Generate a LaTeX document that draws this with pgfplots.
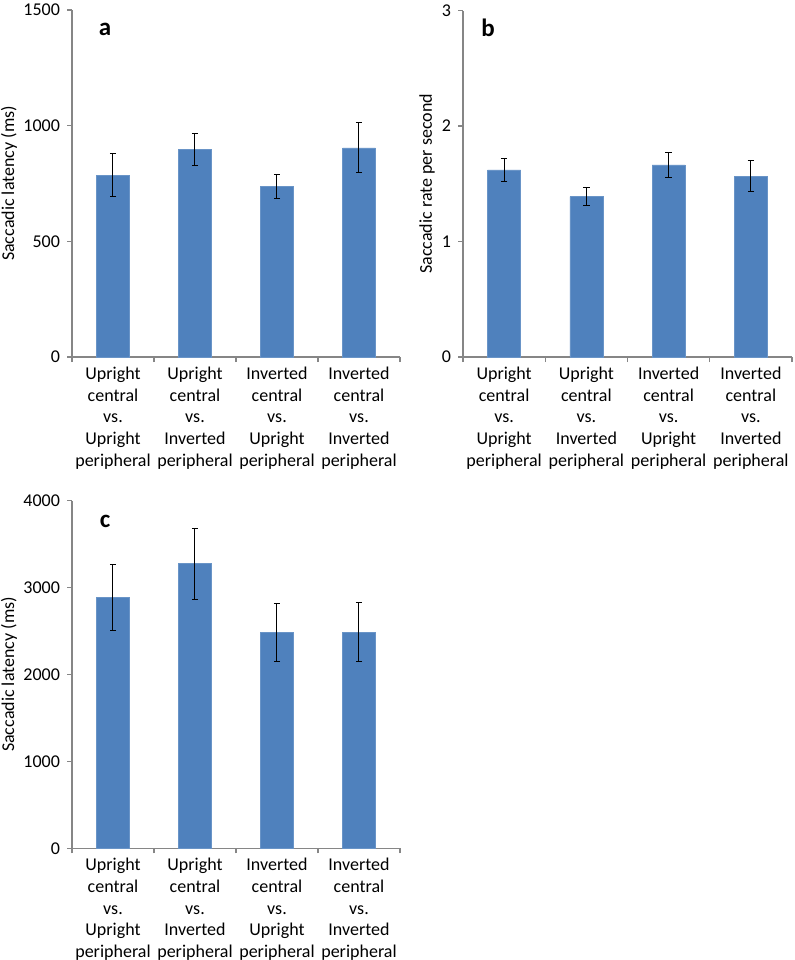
\documentclass[border=0pt]{standalone}
\usepackage{fontspec}
\setmainfont{Carlito}
\usepackage{pgfplots}
\pgfplotsset{compat=1.18}
\definecolor{barblue}{HTML}{4F81BD}
\definecolor{axgray}{HTML}{868686}
\pgfplotsset{
  panel/.style={
    scale only axis,
    axis x line*=bottom, axis y line*=left,
    axis line style={axgray, line width=0.6pt},
    tick style={axgray, line width=0.6pt},
    tick align=outside,
    major tick length=2.5pt,
    xmin=-0.5, xmax=3.5, ymin=0,
    xtick={-0.5,0.5,1.5,2.5,3.5},
    xticklabels={},
    extra x ticks={0,1,2,3},
    extra x tick style={major tick length=0pt},
    extra x tick labels={{Upright\\central\\vs.\\Upright\\peripheral},
                 {Upright\\central\\vs.\\Inverted\\peripheral},
                 {Inverted\\central\\vs.\\Upright\\peripheral},
                 {Inverted\\central\\vs.\\Inverted\\peripheral}},
    xticklabel style={align=center, font=\fontsize{9}{10.85}\selectfont, yshift=-1.5pt},
    yticklabel style={font=\fontsize{9}{10.9}\selectfont, /pgf/number format/1000 sep={}},
    scaled y ticks=false,
    /pgf/number format/assume math mode=true,
    label style={font=\fontsize{9}{10.9}\selectfont},
    ybar, bar width=0.4,
  },
  bars/.style={fill=barblue, draw=barblue!85!white, line width=0.3pt,
    error bars/.cd, y dir=both, y explicit,
    error bar style={black, line width=0.5pt},
    error mark options={rotate=90, black, mark size=1.6pt, line width=0.5pt}},
}
\begin{document}
\begin{tikzpicture}
\path[use as bounding box] (0,0) rectangle (397.5pt,-480pt);

% panel a
\begin{axis}[panel, at={(36pt,-178.5pt)}, anchor=south west,
  width=164pt, height=173.5pt, ymax=1500, ytick={0,500,1000,1500},
  ylabel={Saccadic latency (ms)},
  ylabel style={at={(axis description cs:-0.192,0.5)}, anchor=center}]
\addplot[bars] coordinates {
  (0,786) +- (0,94)
  (1,899) +- (0,69)
  (2,737) +- (0,51)
  (3,904) +- (0,108)
};
\end{axis}

% panel b
\begin{axis}[panel, at={(231.5pt,-178.5pt)}, anchor=south west,
  width=164.5pt, height=173.2pt, ymax=3, ytick={0,1,2,3},
  ylabel={Saccadic rate per second},
  ylabel style={at={(axis description cs:-0.109,0.5)}, anchor=center}]
\addplot[bars] coordinates {
  (0,1.620) +- (0,0.098)
  (1,1.389) +- (0,0.081)
  (2,1.664) +- (0,0.107)
  (3,1.566) +- (0,0.134)
};
\end{axis}

% panel c
\begin{axis}[panel, at={(36pt,-424.15pt)}, anchor=south west,
  width=164pt, height=173.8pt, ymax=4000, ytick={0,1000,2000,3000,4000},
  ylabel={Saccadic latency (ms)},
  ylabel style={at={(axis description cs:-0.192,0.5)}, anchor=center}]
\addplot[bars] coordinates {
  (0,2888) +- (0,377)
  (1,3275) +- (0,410)
  (2,2481) +- (0,334)
  (3,2489) +- (0,344)
};
\end{axis}

\node[font=\fontsize{12.5}{14}\selectfont\bfseries] at (52.5pt,-14.5pt) {a};
\node[font=\fontsize{12.5}{14}\selectfont\bfseries] at (244pt,-14pt) {b};
\node[font=\fontsize{12.5}{14}\selectfont\bfseries] at (52.5pt,-260.9pt) {c};
\end{tikzpicture}
\end{document}
